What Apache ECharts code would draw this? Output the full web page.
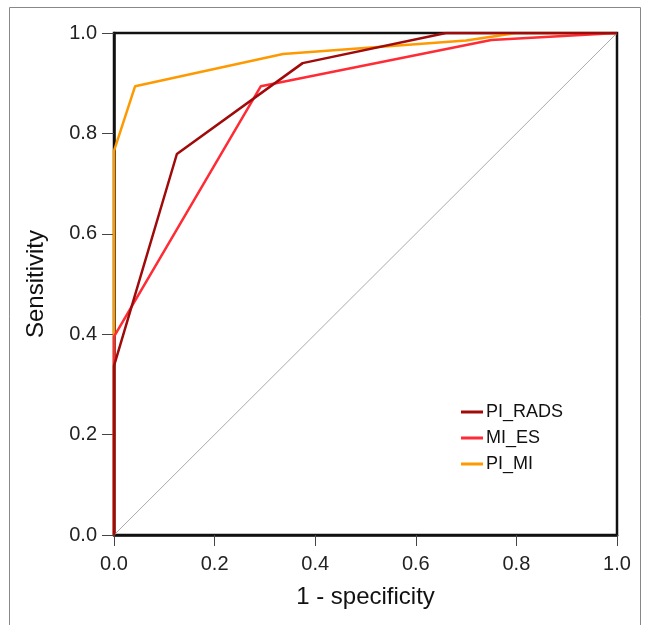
<!DOCTYPE html>
<html><head><meta charset="utf-8">
<script src="https://cdn.jsdelivr.net/npm/echarts@6/dist/echarts.min.js"></script>
<style>html,body{margin:0;padding:0;background:#fff}#c{width:648px;height:625px}</style>
</head><body><div id="c"></div>
<script>
const seriesNames = ['PI_RADS', 'MI_ES', 'PI_MI'];
const piRadsX = [0, 0, 0.125, 0.375, 0.66, 1.0];
const piRadsY = [0, 0.337, 0.759, 0.94, 1.0, 1.0];
const miEsX = [0, 0, 0.292, 0.75, 1.0];
const miEsY = [0, 0.395, 0.894, 0.986, 1.0];
const piMiX = [0, 0, 0.042, 0.336, 0.70, 0.80, 1.0];
const piMiY = [0, 0.765, 0.894, 0.958, 0.985, 1.0, 1.0];
const refX = [0, 1];
const refY = [0, 1];
const xTicks = [0, 0.2, 0.4, 0.6, 0.8, 1.0];
const yTicks = [0, 0.2, 0.4, 0.6, 0.8, 1.0];

const colors = ['#A00A0A', '#FF2B35', '#FF9900'];
const pairs = (xs, ys) => xs.map((x, i) => [x, ys[i]]);
const font = 'Liberation Sans, Arial, sans-serif';

const chart = echarts.init(document.getElementById('c'));
chart.setOption({
  animation: false,
  grid: {left: 114, top: 33, width: 503, height: 502, show: true, borderColor: '#111', borderWidth: 2.5, backgroundColor: 'transparent'},
  graphic: [{type: 'rect', shape: {x: 9.5, y: 7.5, width: 631, height: 640}, style: {fill: 'none', stroke: '#888', lineWidth: 1}, silent: true}],
  xAxis: {
    type: 'value', min: 0, max: 1, interval: 0.2,
    name: '1 - specificity', nameLocation: 'middle', nameGap: 50,
    nameTextStyle: {fontSize: 24, color: '#111', fontFamily: font},
    axisLine: {show: true, lineStyle: {color: '#111', width: 2.5}},
    axisTick: {show: true, length: 11, lineStyle: {color: '#444', width: 1}},
    axisLabel: {fontSize: 20, color: '#222', fontFamily: font, margin: 19, formatter: v => v.toFixed(1)},
    splitLine: {show: false}
  },
  yAxis: {
    type: 'value', min: 0, max: 1, interval: 0.2,
    name: 'Sensitivity', nameLocation: 'middle', nameGap: 66,
    nameTextStyle: {fontSize: 24, color: '#111', fontFamily: font},
    axisLine: {show: true, lineStyle: {color: '#111', width: 2.5}},
    axisTick: {show: true, length: 12, lineStyle: {color: '#444', width: 1}},
    axisLabel: {fontSize: 20, color: '#222', fontFamily: font, margin: 17, formatter: v => v.toFixed(1)},
    splitLine: {show: false}
  },
  legend: {
    orient: 'vertical', left: 456, top: 398, itemGap: 8,
    itemWidth: 22, itemHeight: 3, icon: 'rect',
    textStyle: {fontSize: 18, color: '#111', fontFamily: font, padding: [0, 0, 0, -2]},
    data: seriesNames
  },
  series: [
    {name: 'ref', type: 'line', data: pairs(refX, refY), symbol: 'none', lineStyle: {color: '#aaa', width: 1}, z: 1, silent: true},
    {name: seriesNames[0], type: 'line', data: pairs(piRadsX, piRadsY), symbol: 'none', color: colors[0], lineStyle: {color: colors[0], width: 2.5}, z: 4},
    {name: seriesNames[1], type: 'line', data: pairs(miEsX, miEsY), symbol: 'none', color: colors[1], lineStyle: {color: colors[1], width: 2.5}, z: 3},
    {name: seriesNames[2], type: 'line', data: pairs(piMiX, piMiY), symbol: 'none', color: colors[2], lineStyle: {color: colors[2], width: 2.5}, z: 2}
  ]
});
</script></body></html>
